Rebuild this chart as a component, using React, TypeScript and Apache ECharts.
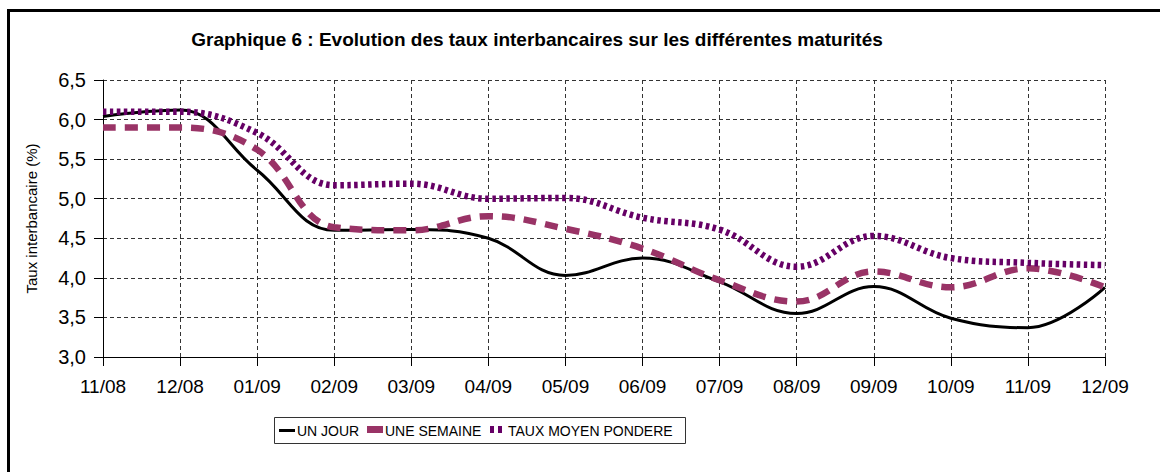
import React, { useEffect, useRef } from "react";
import * as echarts from "echarts";

const categories = ["11/08", "12/08", "01/09", "02/09", "03/09", "04/09", "05/09", "06/09", "07/09", "08/09", "09/09", "10/09", "11/09", "12/09"];
const unJour = [6.04, 6.12, 5.36, 4.6, 4.61, 4.5, 4.03, 4.25, 3.95, 3.55, 3.89, 3.49, 3.37, 3.88];
const uneSemaine = [5.9, 5.9, 5.62, 4.64, 4.6, 4.78, 4.62, 4.37, 3.97, 3.7, 4.08, 3.88, 4.12, 3.88];
const tauxMoyen = [6.1, 6.1, 5.83, 5.17, 5.19, 5.0, 5.01, 4.76, 4.61, 4.14, 4.53, 4.25, 4.19, 4.16];
const seriesNames = ["UN JOUR", "UNE SEMAINE", "TAUX MOYEN PONDERE"];
const titleText = "Graphique 6 : Evolution des taux interbancaires sur les différentes maturités";
const yAxisName = "Taux interbancaire (%)";

const FONT = "'Liberation Sans', Arial, sans-serif";

export default function App() {
  const ref = useRef<HTMLDivElement>(null);
  useEffect(() => {
    document.body.style.margin = "0";
    const chart = echarts.init(ref.current!, null, { renderer: "svg" });
    const legendFont = { fontSize: 14, fontFamily: FONT, fill: "#000" };
    chart.setOption({
      animation: false,
      backgroundColor: "#fff",
      title: {
        text: titleText,
        left: 532,
        top: 25,
        textAlign: "center",
        textStyle: { fontSize: 19, fontWeight: "bold", fontFamily: FONT, color: "#000" },
      },
      grid: { left: 103, right: 55, top: 80, bottom: 115, containLabel: false },
      xAxis: {
        type: "category",
        data: categories,
        boundaryGap: false,
        axisLine: { lineStyle: { color: "#000", width: 1 } },
        axisTick: { show: true, length: 9, lineStyle: { color: "#000" } },
        axisLabel: { color: "#000", fontSize: 19, fontFamily: FONT, margin: 20 },
        splitLine: { show: true, lineStyle: { color: "#333", type: [4, 3], width: 1 } },
      },
      yAxis: {
        type: "value",
        min: 3,
        max: 6.5,
        interval: 0.5,
        name: yAxisName,
        nameLocation: "middle",
        nameGap: 64,
        nameTextStyle: { color: "#000", fontSize: 15, fontFamily: FONT },
        axisLine: { show: true, lineStyle: { color: "#000", width: 1 } },
        axisTick: { show: true, length: 9, lineStyle: { color: "#000" } },
        axisLabel: {
          color: "#000",
          fontSize: 20,
          fontFamily: FONT,
          margin: 17,
          formatter: (v: number) => v.toFixed(1).replace(".", ","),
        },
        splitLine: { show: true, lineStyle: { color: "#333", type: [4, 3], width: 1 } },
      },
      series: [
        {
          name: seriesNames[0],
          type: "line",
          data: unJour,
          smooth: 0.4,
          showSymbol: false,
          lineStyle: { color: "#000", width: 3 },
        },
        {
          name: seriesNames[1],
          type: "line",
          data: uneSemaine,
          smooth: 0.4,
          showSymbol: false,
          lineStyle: { color: "#993366", width: 6.5, type: [13, 9], cap: "butt" },
        },
        {
          name: seriesNames[2],
          type: "line",
          data: tauxMoyen,
          smooth: 0.4,
          showSymbol: false,
          lineStyle: { color: "#660066", width: 6.5, type: [3.5, 3.5], cap: "butt" },
        },
      ],
      graphic: [
        {
          type: "rect",
          shape: { x: 8.5, y: 10.5, width: 1200, height: 520 },
          style: { fill: "none", stroke: "#000", lineWidth: 3 },
          silent: true,
          z: 100,
        },
        {
          type: "rect",
          shape: { x: 274.5, y: 417.5, width: 411, height: 26 },
          style: { fill: "#fff", stroke: "#333", lineWidth: 1 },
          z: 100,
        },
        {
          type: "rect",
          shape: { x: 279, y: 429, width: 16, height: 3 },
          style: { fill: "#000" },
          z: 101,
        },
        {
          type: "text",
          x: 297,
          y: 430.5,
          style: { text: seriesNames[0], ...legendFont, verticalAlign: "middle" },
          z: 101,
        },
        {
          type: "rect",
          shape: { x: 367, y: 426, width: 16, height: 7 },
          style: { fill: "#993366" },
          z: 101,
        },
        {
          type: "text",
          x: 385,
          y: 430.5,
          style: { text: seriesNames[1], ...legendFont, verticalAlign: "middle" },
          z: 101,
        },
        {
          type: "rect",
          shape: { x: 490, y: 426, width: 4, height: 7 },
          style: { fill: "#660066" },
          z: 101,
        },
        {
          type: "rect",
          shape: { x: 498, y: 426, width: 4, height: 7 },
          style: { fill: "#660066" },
          z: 101,
        },
        {
          type: "text",
          x: 508,
          y: 430.5,
          style: { text: seriesNames[2], ...legendFont, verticalAlign: "middle" },
          z: 101,
        },
      ],
    });
    return () => chart.dispose();
  }, []);
  return <div ref={ref} style={{ width: 1160, height: 472 }} />;
}
